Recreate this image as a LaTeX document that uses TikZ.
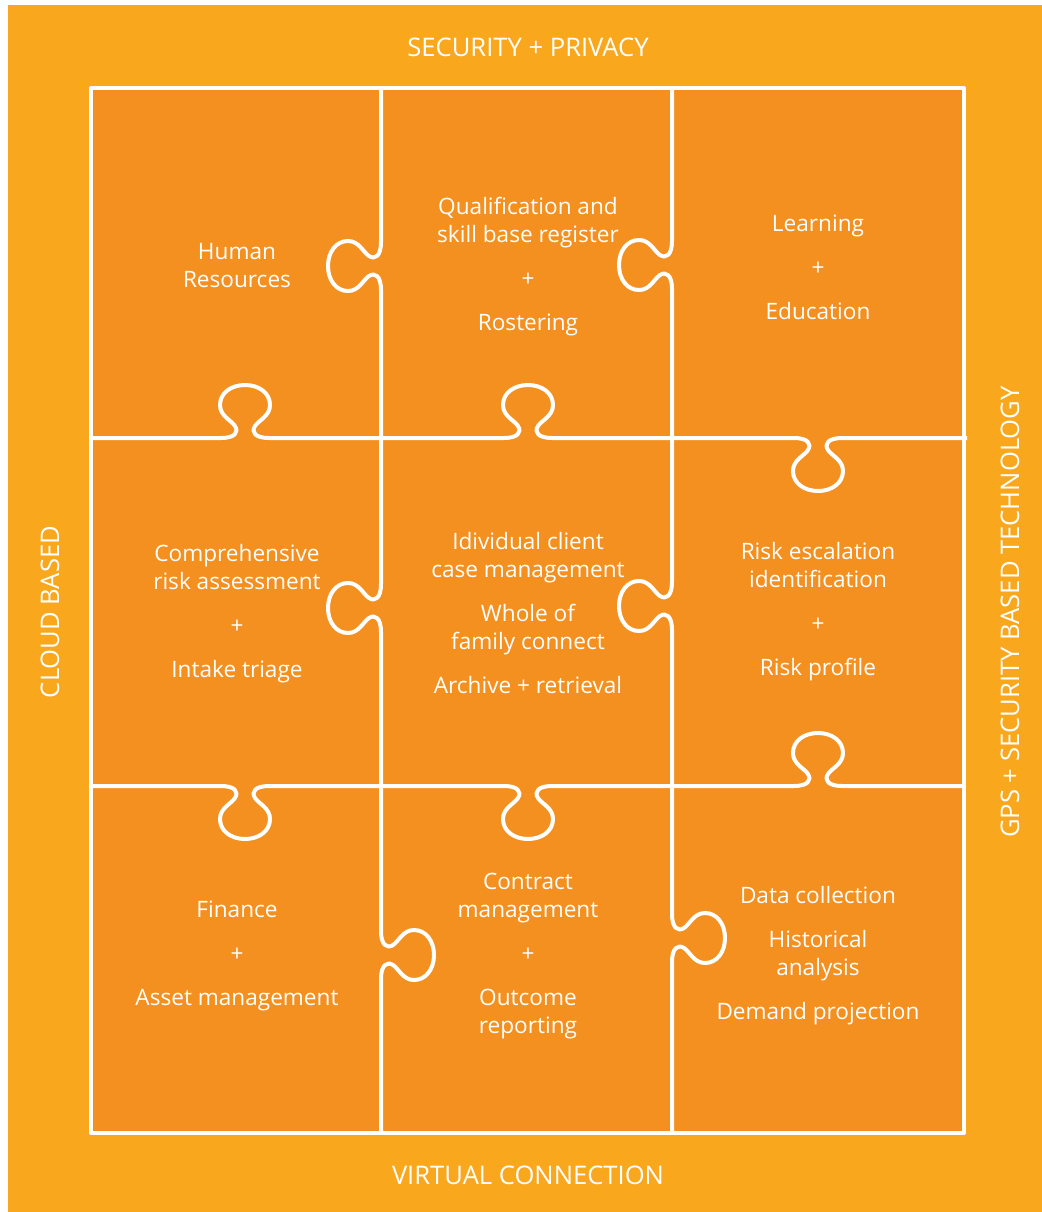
\documentclass[tikz,border=0pt]{standalone}
\usepackage{fontspec}
\setmainfont{Open Sans}
\usepackage{tikz}
\usetikzlibrary{calc,positioning}
\definecolor{outerorange}{RGB}{249,168,30}
\definecolor{pieceorange}{RGB}{243,144,32}
\tikzset{
seam/.style={draw=white, line width=2pt, line join=round},
cell/.style={text=white, align=center, font=\fontsize{11.3}{14}\selectfont},
side/.style={text=white, font=\fontsize{12.8}{14}\selectfont},
knobh/.style n args={3}{insert path={
 -- ({#1-24},#2) .. controls ({#1-10},#2) and ({#1-6},{#2+6*(#3)}) .. ({#1-10},{#2+12*(#3)})
 .. controls ({#1-14},{#2+18*(#3)}) and ({#1-25},{#2+22*(#3)}) .. ({#1-25},{#2+33*(#3)})
 .. controls ({#1-25},{#2+45*(#3)}) and ({#1-14},{#2+53*(#3)}) .. (#1,{#2+53*(#3)})
 .. controls ({#1+14},{#2+53*(#3)}) and ({#1+25},{#2+45*(#3)}) .. ({#1+25},{#2+33*(#3)})
 .. controls ({#1+25},{#2+22*(#3)}) and ({#1+14},{#2+18*(#3)}) .. ({#1+10},{#2+12*(#3)})
 .. controls ({#1+6},{#2+6*(#3)}) and ({#1+10},#2) .. ({#1+24},#2)}},
knobv/.style n args={3}{insert path={
 -- (#1,{#2-24}) .. controls (#1,{#2-10}) and ({#1+6*(#3)},{#2-6}) .. ({#1+12*(#3)},{#2-10})
 .. controls ({#1+18*(#3)},{#2-14}) and ({#1+22*(#3)},{#2-25}) .. ({#1+33*(#3)},{#2-25})
 .. controls ({#1+45*(#3)},{#2-25}) and ({#1+53*(#3)},{#2-14}) .. ({#1+53*(#3)},#2)
 .. controls ({#1+53*(#3)},{#2+14}) and ({#1+45*(#3)},{#2+25}) .. ({#1+33*(#3)},{#2+25})
 .. controls ({#1+22*(#3)},{#2+25}) and ({#1+18*(#3)},{#2+14}) .. ({#1+12*(#3)},{#2+10})
 .. controls ({#1+6*(#3)},{#2+6}) and (#1,{#2+10}) .. (#1,{#2+24})}}
}
\begin{document}
\begin{tikzpicture}[x=0.5pt,y=-0.5pt]
\useasboundingbox (0,0) rectangle (1042,1212);
\fill[white] (0,0) rectangle (1042,1212);
\fill[outerorange] (8,5) rectangle (1042,1212);
\fill[pieceorange] (91,88) rectangle (964,1133);

% puzzle seams
\draw[seam] (91,88) rectangle (964,1133);
\draw[seam] (91,438) [knobh={245}{438}{-1}] [knobh={528}{438}{-1}] [knobh={818}{438}{1}] -- (967,438);
\draw[seam] (91,786) [knobh={245}{786}{1}] [knobh={528}{786}{1}] [knobh={818}{786}{-1}] -- (964,786);
\draw[seam] (381,88) [knobv={381}{266}{-1}] [knobv={381}{608}{-1}] [knobv={381}{955}{1}] -- (381,1133);
\draw[seam] (672,88) [knobv={672}{265}{-1}] [knobv={672}{606}{-1}] [knobv={672}{938}{1}] -- (672,1133);

% frame labels
\node (sec) at (528,47) [side] {SECURITY + PRIVACY};
\node (virt) at (528,1175) [side] {VIRTUAL CONNECTION};
\node (cloud) at (50,612) [side,rotate=90] {CLOUD BASED};
\node (gps) at (1010,612) [side,rotate=90] {GPS + SECURITY BASED TECHNOLOGY};

% pieces
\node (hr) at (237,266) [cell] {Human\\Resources};
\node (qual) at (528,267) [cell] {Qualification and\\skill base register\\[8pt]+\\[8pt]Rostering};
\node (learn) at (818,267) [cell] {Learning\\[8pt]+\\[8pt]Education};
\node (risk) at (237,614) [cell] {Comprehensive\\risk assessment\\[8pt]+\\[8pt]Intake triage};
\node (client) at (528,613) [cell] {Idividual client\\case management\\[8pt]Whole of\\family connect\\[8pt]Archive + retrieval};
\node (esc) at (818,612) [cell] {Risk escalation\\identification\\[8pt]+\\[8pt]Risk profile};
\node (fin) at (237,956) [cell] {Finance\\[8pt]+\\[8pt]Asset management};
\node (contract) at (528,956) [cell] {Contract\\management\\[8pt]+\\[8pt]Outcome\\reporting};
\node (data) at (818,956) [cell] {Data collection\\[8pt]Historical\\analysis\\[8pt]Demand projection};
\end{tikzpicture}
\end{document}
